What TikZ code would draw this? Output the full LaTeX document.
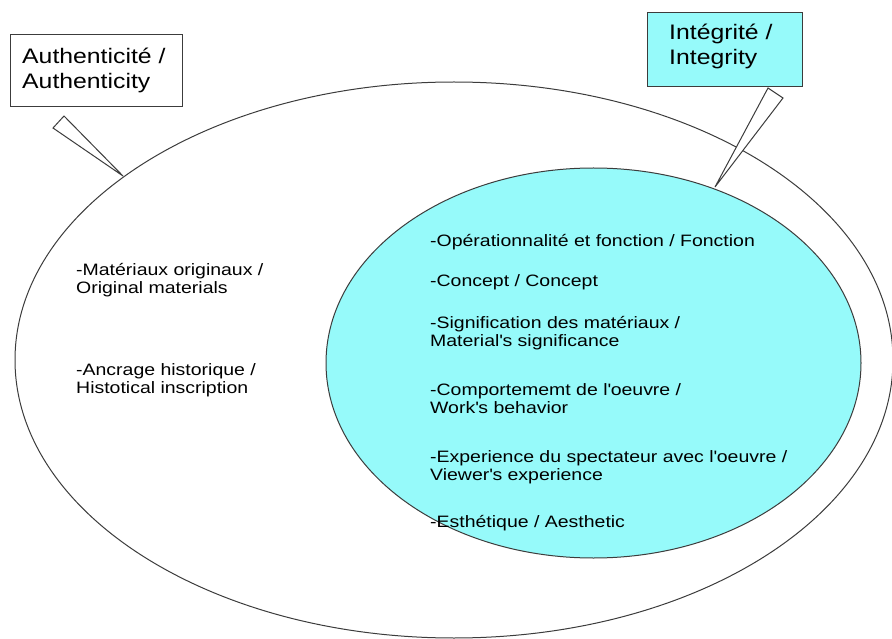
\documentclass[tikz,border=0pt]{standalone}
\usepackage{fontspec}
\setmainfont{Liberation Sans}[FakeStretch=1.18]
\usetikzlibrary{shapes.geometric}
\definecolor{linegray}{RGB}{60,60,60}
\definecolor{lightcyan}{RGB}{150,250,250}
\newcommand{\ap}{\textquotesingle}
\begin{document}
\begin{tikzpicture}[x=1pt,y=-1pt,
  outline/.style={draw=linegray,line width=1pt},
  zone/.style={ellipse,outline,inner sep=0pt},
  labelbox/.style={rectangle,outline,inner sep=0pt},
  pointer/.style={outline,fill=white,line join=miter},
  boxtext/.style={anchor=base west,inner sep=0pt,align=left,
    font=\fontsize{21}{25}\selectfont},
  itemtext/.style={anchor=base west,inner sep=0pt,align=left,
    font=\fontsize{16.5}{18}\selectfont}]
\useasboundingbox (0,0) rectangle (892,639);

% the two nested zones
\node[zone,fill=white,minimum width=878,minimum height=556] (outer) at (454,360) {};
\node[zone,fill=lightcyan,minimum width=535,minimum height=390] (inner) at (593.5,363) {};

% callout pointers
\coordinate (a1) at (64,116);
\coordinate (a2) at (53,128);
\coordinate (atip) at (123,176);
\draw[pointer] (a1) -- (a2) -- (atip) -- cycle;
\coordinate (i1) at (768,88);
\coordinate (i2) at (783,98);
\coordinate (itip) at (715,187);
\draw[pointer] (i1) -- (i2) -- (itip) -- cycle;

% callout boxes (text nodes are anchored on the baseline of their last line)
\node[labelbox,fill=white,minimum width=172,minimum height=72] (authbox) at (96,71) {};
\node[labelbox,fill=lightcyan,minimum width=155,minimum height=74] (intbox) at (724.5,50) {};
\node[boxtext] (authtext) at (22,89) {Authenticité /\\Authenticity};
\node[boxtext] (inttext) at (669,65) {Intégrité /\\Integrity};

% authenticity criteria
\node[itemtext] (mat) at (76,294) {-Matériaux originaux /\\Original materials};
\node[itemtext] (anc) at (76,393) {-Ancrage historique /\\Histotical inscription};

% integrity criteria
\node[itemtext] (ope) at (430,247) {-Opérationnalité et fonction / Fonction};
\node[itemtext] (con) at (430,287) {-Concept / Concept};
\node[itemtext] (sig) at (430,346) {-Signification des matériaux /\\Material\ap s significance};
\node[itemtext] (com) at (430,413) {-Comportememt de l\ap oeuvre /\\Work\ap s behavior};
\node[itemtext] (exp) at (430,480) {-Experience du spectateur avec l\ap oeuvre /\\Viewer\ap s experience};
\node[itemtext] (est) at (430,527) {-Esthétique / Aesthetic};
\end{tikzpicture}
\end{document}
